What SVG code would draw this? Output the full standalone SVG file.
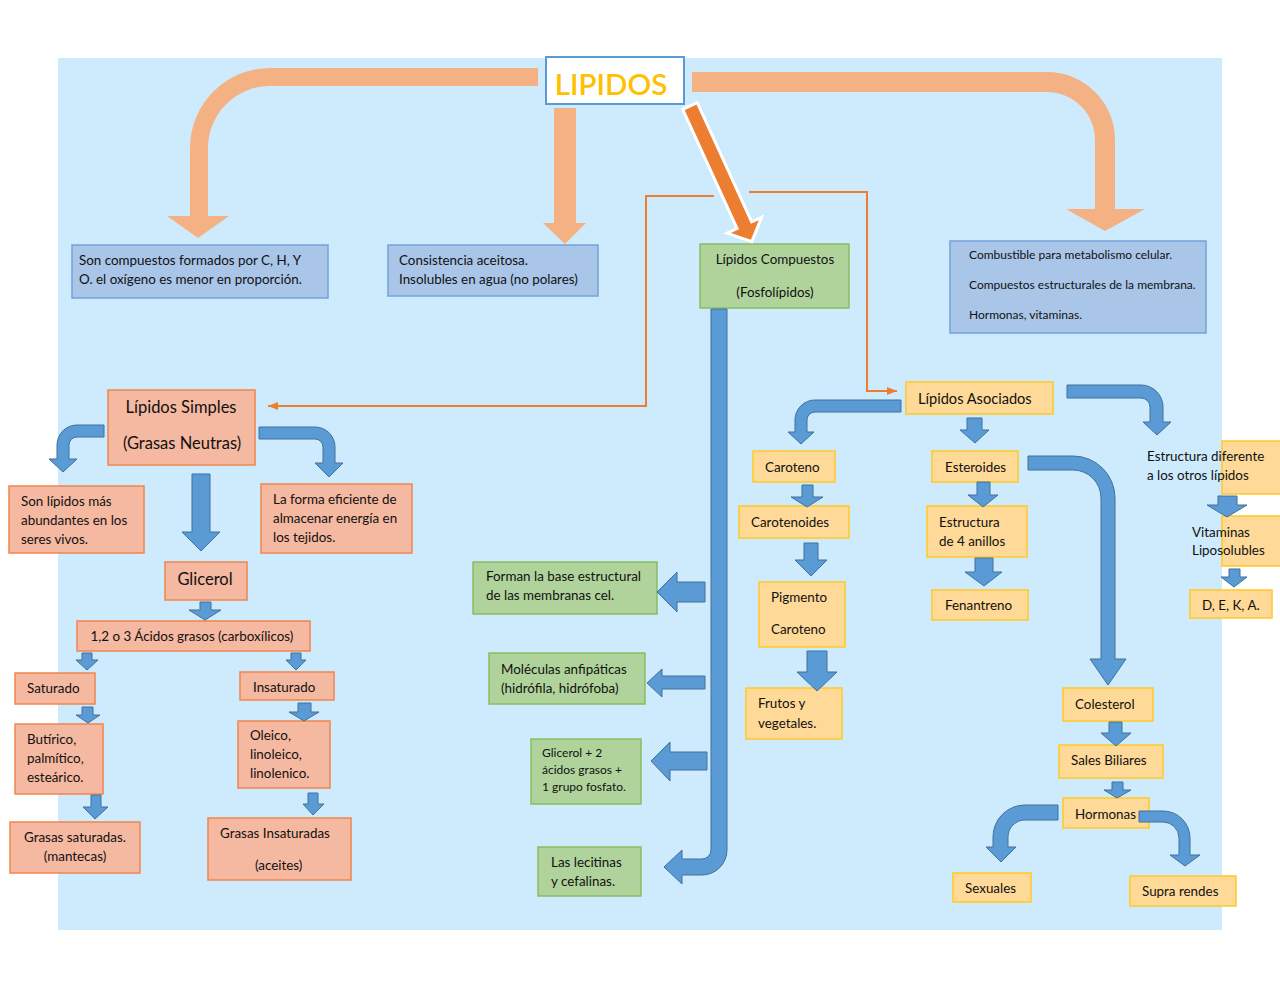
<svg xmlns="http://www.w3.org/2000/svg" width="1280" height="989" viewBox="0 0 1280 989">
<defs>
<style>
text{font-family:Lato,"Open Sans","Liberation Sans",sans-serif;fill:#111111;font-size:13.4px}
.s11{font-size:12px}
.s14{font-size:14.6px}
.s16{font-size:16.5px}
.mid{text-anchor:middle}
.bl{fill:#A9C5E8;stroke:#74A3D9;stroke-width:1.5}
.gr{fill:#B0D39B;stroke:#86BE62;stroke-width:1.5}
.sa{fill:#F5B8A0;stroke:#F0874C;stroke-width:1.5}
.ye{fill:#FFD997;stroke:#FFC926;stroke-width:1.5}
.ba{fill:#5B9BD5;stroke:#41719C;stroke-width:1}
.oa{fill:#F4B183}
.ol{fill:none;stroke:#ED7D31;stroke-width:2}
</style>
<marker id="ah" markerWidth="10" markerHeight="8" refX="10" refY="4" orient="auto" markerUnits="userSpaceOnUse"><path d="M0,0 L10,4 L0,8 Z" fill="#ED7D31"/></marker>
</defs>
<rect x="0" y="0" width="1280" height="989" fill="#FFFFFF"/>
<rect x="58" y="58" width="1164" height="872" fill="#CDEBFC"/>

<g id="nodes">
<g id="n-lipidos"><rect x="546" y="57" width="138" height="47" fill="#FFFFFF" stroke="#5B9BD5" stroke-width="2"/><text x="611" y="95" class="mid" style="font-size:29.5px;fill:#FFC000;font-weight:600">LIPIDOS</text></g>
<g id="n-compuestos-def"><rect class="bl" x="72" y="245" width="256" height="53"/><text x="79" y="265">Son compuestos formados por C, H, Y</text><text x="79" y="284">O. el oxígeno es menor en proporción.</text></g>
<g id="n-consistencia"><rect class="bl" x="388" y="245" width="210" height="51"/><text x="399" y="265">Consistencia aceitosa.</text><text x="399" y="284">Insolubles en agua (no polares)</text></g>
<g id="n-funciones"><rect class="bl" x="950" y="241" width="256" height="92"/><text class="s11" x="969" y="259">Combustible para metabolismo celular.</text><text class="s11" x="969" y="289">Compuestos estructurales de la membrana.</text><text class="s11" x="969" y="319">Hormonas, vitaminas.</text></g>
<g id="n-lip-compuestos"><rect class="gr" x="700" y="244" width="149" height="64"/><text class="mid" x="775" y="264">Lípidos Compuestos</text><text class="mid" x="775" y="297">(Fosfolípidos)</text></g>
<g id="n-lip-simples"><rect class="sa" x="108" y="390" width="147" height="75"/><text class="mid s16" x="181" y="413">Lípidos Simples</text><text class="mid s16" x="182" y="449">(Grasas Neutras)</text></g>
<g id="n-abundantes"><rect class="sa" x="9" y="486" width="135" height="67"/><text x="21" y="506">Son lípidos más</text><text x="21" y="525">abundantes en los</text><text x="21" y="544">seres vivos.</text></g>
<g id="n-energia"><rect class="sa" x="261" y="484" width="151" height="69"/><text x="273" y="504">La forma eficiente de</text><text x="273" y="523">almacenar energía en</text><text x="273" y="542">los tejidos.</text></g>
<g id="n-glicerol"><rect class="sa" x="165" y="562" width="82" height="38"/><text class="mid s16" x="205" y="585">Glicerol</text></g>
<g id="n-acidos"><rect class="sa" x="77" y="621" width="233" height="30"/><text class="mid" x="192" y="641">1,2 o 3 Ácidos grasos (carboxílicos)</text></g>
<g id="n-saturado"><rect class="sa" x="15" y="673" width="80" height="31"/><text x="27" y="693">Saturado</text></g>
<g id="n-insaturado"><rect class="sa" x="240" y="672" width="94" height="28"/><text x="253" y="692">Insaturado</text></g>
<g id="n-butirico"><rect class="sa" x="15" y="724" width="88" height="70"/><text x="27" y="744">Butírico,</text><text x="27" y="763">palmítico,</text><text x="27" y="782">esteárico.</text></g>
<g id="n-oleico"><rect class="sa" x="238" y="721" width="92" height="67"/><text x="250" y="740">Oleico,</text><text x="250" y="759">linoleico,</text><text x="250" y="778">linolenico.</text></g>
<g id="n-grasas-sat"><rect class="sa" x="10" y="822" width="130" height="51"/><text class="mid" x="75" y="842">Grasas saturadas.</text><text class="mid" x="75" y="861">(mantecas)</text></g>
<g id="n-grasas-ins"><rect class="sa" x="208" y="818" width="143" height="62"/><text x="220" y="838">Grasas Insaturadas</text><text x="255" y="870">(aceites)</text></g>
<g id="n-membranas"><rect class="gr" x="473" y="562" width="184" height="52"/><text x="486" y="581">Forman la base estructural</text><text x="486" y="600">de las membranas cel.</text></g>
<g id="n-anfipaticas"><rect class="gr" x="489" y="653" width="156" height="51"/><text x="501" y="674">Moléculas anfipáticas</text><text x="501" y="693">(hidrófila, hidrófoba)</text></g>
<g id="n-glicerol2"><rect class="gr" x="531" y="739" width="110" height="65"/><text class="s11" x="542" y="757">Glicerol + 2</text><text class="s11" x="542" y="774">ácidos grasos +</text><text class="s11" x="542" y="791">1 grupo fosfato.</text></g>
<g id="n-lecitinas"><rect class="gr" x="538" y="847" width="103" height="49"/><text x="551" y="867">Las lecitinas</text><text x="551" y="886">y cefalinas.</text></g>
<g id="n-asociados"><rect class="ye" x="906" y="382" width="147" height="32"/><text class="s14" x="918" y="404">Lípidos Asociados</text></g>
<g id="n-caroteno"><rect class="ye" x="753" y="451" width="82" height="31"/><text x="765" y="472">Caroteno</text></g>
<g id="n-carotenoides"><rect class="ye" x="739" y="506" width="110" height="32"/><text x="751" y="527">Carotenoides</text></g>
<g id="n-pigmento"><rect class="ye" x="759" y="582" width="86" height="65"/><text x="771" y="602">Pigmento</text><text x="771" y="634">Caroteno</text></g>
<g id="n-frutos"><rect class="ye" x="746" y="688" width="96" height="51"/><text x="758" y="708">Frutos y</text><text x="758" y="728">vegetales.</text></g>
<g id="n-esteroides"><rect class="ye" x="932" y="451" width="86" height="31"/><text x="945" y="472">Esteroides</text></g>
<g id="n-estructura4"><rect class="ye" x="927" y="506" width="100" height="51"/><text x="939" y="527">Estructura</text><text x="939" y="546">de 4 anillos</text></g>
<g id="n-fenantreno"><rect class="ye" x="932" y="590" width="96" height="30"/><text x="945" y="610">Fenantreno</text></g>
<g id="n-estr-dif"><rect class="ye" x="1222" y="441" width="62" height="53"/><text x="1147" y="461">Estructura diferente</text><text x="1147" y="480">a los otros lípidos</text></g>
<g id="n-vitaminas"><rect class="ye" x="1222" y="516" width="62" height="50"/><text x="1192" y="537">Vitaminas</text><text x="1192" y="555">Liposolubles</text></g>
<g id="n-deka"><rect class="ye" x="1190" y="590" width="82" height="28"/><text x="1202" y="610">D, E, K, A.</text></g>
<g id="n-colesterol"><rect class="ye" x="1063" y="688" width="90" height="33"/><text x="1075" y="709">Colesterol</text></g>
<g id="n-sales"><rect class="ye" x="1059" y="745" width="104" height="33"/><text x="1071" y="765">Sales Biliares</text></g>
<g id="n-hormonas"><rect class="ye" x="1063" y="798" width="86" height="30"/><text x="1075" y="819">Hormonas</text></g>
<g id="n-sexuales"><rect class="ye" x="953" y="873" width="78" height="29"/><text x="965" y="893">Sexuales</text></g>
<g id="n-supra"><rect class="ye" x="1130" y="876" width="106" height="30"/><text x="1142" y="896">Supra rendes</text></g>
</g>

<g id="connectors">
<path class="oa" d="M538,68 H270 A80,80 0 0 0 190,148 V216 H167 L198,238 L229,216 H208 V148 A62,62 0 0 1 270,86 H538 Z"/>
<polygon class="oa" points="554,108 576,108 576,223 586,223 565,244 543,223 554,223"/>
<path class="oa" d="M692,72 H1047 A68,68 0 0 1 1115,140 V209 H1145 L1105,231 L1066,209 H1095 V140 A48,48 0 0 0 1047,92 H692 Z"/>
<g transform="translate(690,106) rotate(65.5)"><polygon points="0,-8 131,-8 131,-19 149,0 131,19 131,8 0,8" fill="#ED7D31" stroke="#FFFFFF" stroke-width="3"/></g>
<path class="ol" d="M714,196 H646 V406 H268" marker-end="url(#ah)"/>
<path class="ol" d="M749,192 H867 V391 H897" marker-end="url(#ah)"/>

<path class="ba" d="M104,425 H77 A20,20 0 0 0 57,445 V459 H49 L63,472 L77,459 H69 V445 A8,8 0 0 1 77,437 H104 Z"/>
<path class="ba" d="M259,427 H315 A20,20 0 0 1 335,447 V463 H343 L329,477 L315,463 H323 V447 A8,8 0 0 0 315,439 H259 Z"/>
<polygon class="ba" points="192,474 210,474 210,532 220,532 201,551 182,532 192,532"/>
<polygon class="ba" points="200,602 211,602 211,610 221,610 205,620 189,610 200,610"/>
<polygon class="ba" points="82,653 92,653 92,660 98,660 87,670 76,660 82,660"/>
<polygon class="ba" points="291,653 301,653 301,660 306,660 296,670 286,660 291,660"/>
<polygon class="ba" points="82,707 93,707 93,715 100,715 88,723 76,715 82,715"/>
<polygon class="ba" points="298,703 311,703 311,712 319,712 304,721 289,712 298,712"/>
<polygon class="ba" points="91,795 101,795 101,807 108,807 95,819 83,807 91,807"/>
<polygon class="ba" points="308,793 318,793 318,804 324,804 313,815 303,804 308,804"/>

<path class="ba" d="M711,309 H727 V850 A25,25 0 0 1 702,875 H682 V884 L664,867 L682,850 V859 H702 A9,9 0 0 0 711,850 Z"/>
<polygon class="ba" points="705,582 705,602 677,602 677,612 657,592 677,572 677,582"/>
<polygon class="ba" points="705,676 705,689 662,689 662,697 647,683 662,669 662,676"/>
<polygon class="ba" points="707,752 707,770 670,770 670,781 651,761 670,742 670,752"/>

<path class="ba" d="M901,400 H815 A20,20 0 0 0 795,420 V432 H788 L801,444 L814,432 H807 V420 A8,8 0 0 1 815,412 H901 Z"/>
<polygon class="ba" points="967,418 982,418 982,430 989,430 975,443 960,430 967,430"/>
<polygon class="ba" points="802,485 813,485 813,497 823,497 807,507 791,497 802,497"/>
<polygon class="ba" points="804,543 818,543 818,560 827,560 811,576 795,560 804,560"/>
<polygon class="ba" points="807,651 827,651 827,672 837,672 817,691 797,672 807,672"/>
<polygon class="ba" points="977,482 990,482 990,495 998,495 983,507 968,495 977,495"/>
<polygon class="ba" points="975,558 993,558 993,572 1002,572 984,586 965,572 975,572"/>
<path class="ba" d="M1067,385 H1141 A22,22 0 0 1 1163,407 V422 H1171 L1157,435 L1143,422 H1150 V407 A9,9 0 0 0 1141,398 H1067 Z"/>
<path class="ba" d="M1028,456 H1073 A42,42 0 0 1 1115,498 V659 H1126 L1108,685 L1090,659 H1101 V498 A28,28 0 0 0 1073,470 H1028 Z"/>
<polygon class="ba" points="1218,496 1237,496 1237,505 1247,505 1227,517 1207,505 1218,505"/>
<polygon class="ba" points="1229,569 1240,569 1240,577 1247,577 1234,587 1221,577 1229,577"/>
<polygon class="ba" points="1109,722 1122,722 1122,733 1131,733 1116,746 1101,733 1109,733"/>
<polygon class="ba" points="1112,782 1123,782 1123,790 1131,790 1117,798 1104,790 1112,790"/>
<path class="ba" d="M1058,805 H1025 A32,32 0 0 0 993,837 V847 H986 L1001,862 L1016,847 H1008 V837 A17,17 0 0 1 1025,820 H1058 Z"/>
<path class="ba" d="M1139,811 H1163 A27,27 0 0 1 1190,838 V855 H1200 L1185,866 L1170,855 H1179 V838 A16,16 0 0 0 1163,822 H1139 Z"/>
</g>
</svg>
